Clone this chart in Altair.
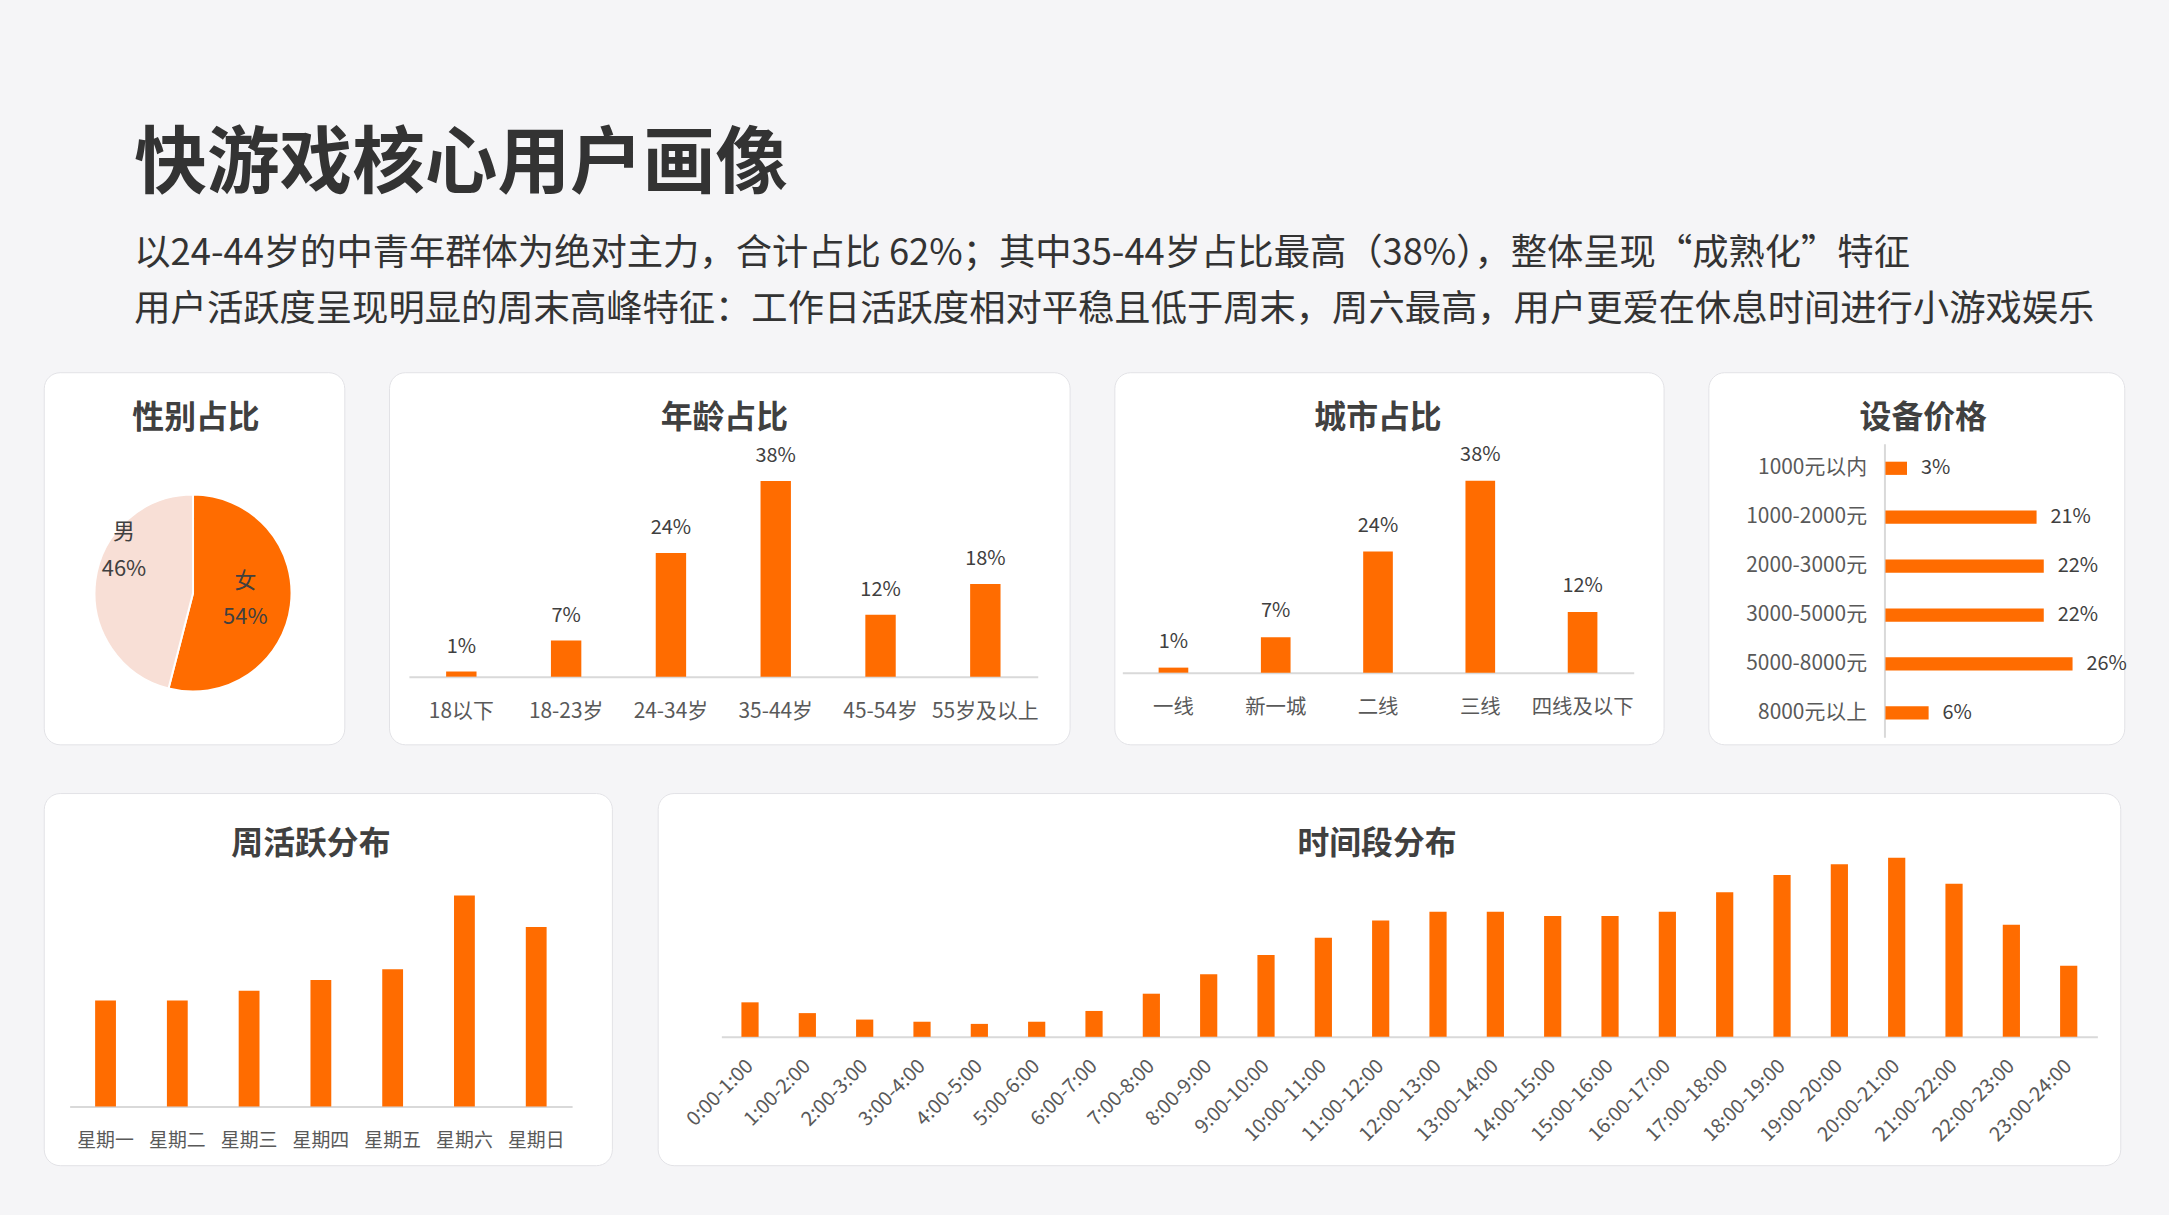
import altair as alt
import pandas as pd

FONT = "Noto Sans CJK SC"
ORANGE = "#FF6C00"
PINK = "#F8DFD6"
TXT = "#404040"
LBL = "#595959"
AXIS = "#D9D9D9"
CARD_H = 374

title_text = "快游戏核心用户画像"
subtitle_lines = [
    "以24-44岁的中青年群体为绝对主力，合计占比 62%；其中35-44岁占比最高（38%），整体呈现“成熟化”特征",
    "用户活跃度呈现明显的周末高峰特征：工作日活跃度相对平稳且低于周末，周六最高，用户更爱在休息时间进行小游戏娱乐",
]

gender_labels = ["女", "男"]
gender_share = [54, 46]

age_groups = ["18以下", "18-23岁", "24-34岁", "35-44岁", "45-54岁", "55岁及以上"]
age_share = [1, 7, 24, 38, 12, 18]

city_tiers = ["一线", "新一城", "二线", "三线", "四线及以下"]
city_share = [1, 7, 24, 38, 12]

price_bands = ["1000元以内", "1000-2000元", "2000-3000元", "3000-5000元", "5000-8000元", "8000元以上"]
price_share = [3, 21, 22, 22, 26, 6]

weekdays = ["星期一", "星期二", "星期三", "星期四", "星期五", "星期六", "星期日"]
week_activity = [10.8, 10.8, 11.8, 12.9, 14.0, 21.5, 18.3]

hour_slots = [
    "0:00-1:00", "1:00-2:00", "2:00-3:00", "3:00-4:00", "4:00-5:00", "5:00-6:00",
    "6:00-7:00", "7:00-8:00", "8:00-9:00", "9:00-10:00", "10:00-11:00", "11:00-12:00",
    "12:00-13:00", "13:00-14:00", "14:00-15:00", "15:00-16:00", "16:00-17:00", "17:00-18:00",
    "18:00-19:00", "19:00-20:00", "20:00-21:00", "21:00-22:00", "22:00-23:00", "23:00-24:00",
]
hour_activity = [1.6, 1.1, 0.8, 0.7, 0.6, 0.7, 1.2, 2.0, 2.9, 3.8, 4.6, 5.4,
                 5.8, 5.8, 5.6, 5.6, 5.8, 6.7, 7.5, 8.0, 8.3, 7.1, 5.2, 3.3]


def card(chart, w, title, dx, offset):
    return chart.properties(
        width=w,
        height=CARD_H,
        view=alt.ViewBackground(fill="white", stroke="#E2E2E6", strokeWidth=1, cornerRadius=16),
        title=alt.TitleParams(title, font=FONT, fontSize=32, fontWeight="bold", color=TXT,
                              anchor="middle", frame="group", offset=offset, dx=dx),
    )


def bottom_axis(offset, pad, angle=0, align="center", size=20):
    return alt.Axis(title=None, orient="bottom", offset=offset, domainColor=AXIS, domainWidth=2,
                    ticks=False, grid=False, labelAngle=angle, labelAlign=align, labelBaseline="middle",
                    labelPadding=pad, labelFont=FONT, labelFontSize=size, labelColor=LBL,
                    labelOverlap=False, labelBound=False, labelFlush=False)


def vbars(cats, vals, xr, base, top, ymax, pad, value_dy=None, inner=0.71, angle=0, align="center", size=20):
    df = pd.DataFrame({"cat": cats, "v": vals})
    x = alt.X("cat:N", sort=cats,
              scale=alt.Scale(range=xr, paddingInner=inner, paddingOuter=inner / 2),
              axis=bottom_axis(-(CARD_H - base), pad, angle, align, size))
    y = alt.Y("v:Q", scale=alt.Scale(domain=[0, ymax], range=[base, top]), axis=None)
    bars = alt.Chart(df).mark_bar(color=ORANGE).encode(x=x, y=y)
    if value_dy is None:
        return bars
    txt = alt.Chart(df).transform_calculate(lbl="datum.v + '%'").mark_text(
        dy=value_dy, font=FONT, fontSize=20, color=TXT, baseline="middle"
    ).encode(x=x, y=y, text="lbl:N")
    return alt.layer(bars, txt)


# gender pie
g_df = pd.DataFrame({"g": gender_labels, "v": gender_share})
g_base = alt.Chart(g_df).encode(
    theta=alt.Theta("v:Q", stack=True),
    order=alt.Order("g:N", sort="ascending"),
    x=alt.value(150), y=alt.value(222),
)
pie = g_base.mark_arc(outerRadius=99, stroke="white", strokeWidth=2).encode(
    color=alt.Color("g:N", scale=alt.Scale(domain=gender_labels, range=[ORANGE, PINK]), legend=None)
)
g_lbl = g_base.transform_calculate(t="datum.g + '\\n' + datum.v + '%'")
fem_txt = g_lbl.mark_text(radius=53, dy=-19, lineBreak="\n", lineHeight=36, font=FONT, fontSize=22,
                          color=TXT, baseline="middle").encode(
    text=alt.condition("datum.g == '女'", "t:N", alt.value(""))
)
male_txt = g_lbl.mark_text(radius=81, dx=11, dy=-51, lineBreak="\n", lineHeight=37, font=FONT,
                           fontSize=22, color=TXT, baseline="middle").encode(
    text=alt.condition("datum.g == '男'", "t:N", alt.value(""))
)
gender = card(alt.layer(pie, fem_txt, male_txt), 302, "性别占比", 2, -63)

age = card(vbars(age_groups, age_share, [20, 652], 306, 99, 40, 35, value_dy=-25, size=21),
           684, "年龄占比", -5, -63)
city = card(vbars(city_tiers, city_share, [8, 522], 302, 99, 40, 35, value_dy=-26, size=20.5),
            552, "城市占比", -11, -63)

# device price (horizontal)
p_df = pd.DataFrame({"cat": price_bands, "v": price_share})
py = alt.Y("cat:N", sort=price_bands,
           scale=alt.Scale(range=[72, 367], paddingInner=0.73, paddingOuter=0.365),
           axis=alt.Axis(title=None, orient="left", offset=-177, domainColor=AXIS, domainWidth=2,
                         ticks=False, grid=False, labelPadding=18, labelAlign="right",
                         labelBaseline="middle", labelFont=FONT, labelFontSize=21, labelColor=LBL))
px = alt.X("v:Q", scale=alt.Scale(domain=[0, 30], range=[178, 395]), axis=None)
p_bars = alt.Chart(p_df).mark_bar(color=ORANGE).encode(x=px, y=py)
p_txt = alt.Chart(p_df).transform_calculate(lbl="datum.v + '%'").mark_text(
    align="left", dx=14, baseline="middle", font=FONT, fontSize=20, color=TXT
).encode(x=px, y=py, text="lbl:N")
device = card(alt.layer(p_bars, p_txt), 418, "设备价格", 7, -63)

week = card(vbars(weekdays, week_activity, [26, 531], 315, 68.5, 25, 34, size=19),
            571, "周活跃分布", -17, -68)
hour = card(vbars(hour_slots, hour_activity, [64, 1447], 245, 28.3, 10, 26, inner=0.7,
                  angle=-45, align="right", size=20), 1470, "时间段分布", -12, -68)

row1 = alt.hconcat(gender, age, city, device, spacing=43)
row2 = alt.hconcat(week, hour, spacing=44)

chart = alt.vconcat(row1, row2, spacing=47).properties(
    title=alt.TitleParams(
        title_text, subtitle=subtitle_lines, anchor="start", frame="group",
        font=FONT, fontSize=73, fontWeight="bold", color="#333333",
        subtitleFont=FONT, subtitleFontSize=36.5, subtitleColor="#333333",
        subtitleLineHeight=56, subtitlePadding=35, offset=43.5, dx=91,
    ),
    padding={"left": 43, "top": 126, "right": 41, "bottom": 48},
    background="#F5F5F7",
).configure_view(stroke=None)

chart.save("out.html", embed_options={"renderer": "svg", "actions": False})
